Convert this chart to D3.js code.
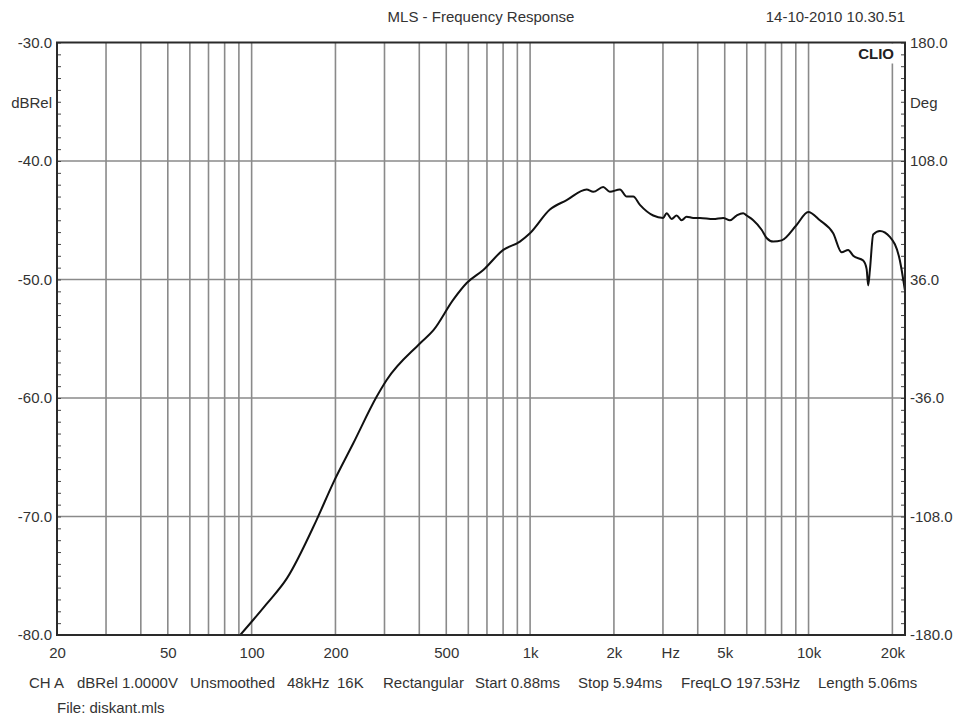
<!DOCTYPE html>
<html>
<head>
<meta charset="utf-8">
<script src="https://cdn.jsdelivr.net/npm/d3@7"></script>
<style>
  body { margin: 0; background: #fff; }
  text { font-family: 'Liberation Sans', Arial, sans-serif; fill: #333; }
</style>
</head>
<body>
<svg id="chart"></svg>
<script>
// data
var freqHz = [91, 113, 134, 171, 196, 232, 281, 305, 402, 449, 530,
              592, 679, 801, 919, 999, 1178, 1353, 1596, 1686, 1830,
              1934, 2102, 2222, 2346, 2480, 2768, 3006, 3092, 3223, 3359,
              3502, 3648, 3853, 4072, 4546, 4938, 5220, 5516, 5826, 5991,
              6329, 6782, 7069, 7466, 8004, 9058, 9971, 10984, 12260, 13144,
              13878, 14466, 15712, 16160, 16376, 16608, 17070, 18038, 19590, 21280,
              22180];
var levelDb = [-80, -77.4, -75.2, -70.3, -67.2, -63.8, -59.9, -58.5, -55.4, -54.3, -51.7,
               -50.3, -49.2, -47.5, -46.8, -46.1, -44.1, -43.3, -42.4, -42.6, -42.2,
               -42.6, -42.4, -43.0, -43.0, -43.7, -44.6, -44.8, -44.4, -44.9, -44.6,
               -45.0, -44.7, -44.8, -44.8, -44.9, -44.8, -45.0, -44.6, -44.4, -44.6,
               -45.0, -45.8, -46.5, -46.8, -46.7, -45.4, -44.3, -45.0, -46.1, -47.7,
               -47.5, -48.0, -48.4, -49.1, -50.5, -49.2, -46.2, -45.9, -46.4, -48.4,
               -50.9];

var freqTicks = [20, 50, 100, 200, 500, 1000, 2000, 5000, 10000, 20000];
var freqTickLabels = ['20', '50', '100', '200', '500', '1k', '2k', '5k', '10k', '20k'];
var freqGrid = [30, 40, 50, 60, 70, 80, 90, 100, 200, 300, 400, 500, 600, 700, 800, 900,
                1000, 2000, 3000, 4000, 5000, 6000, 7000, 8000, 9000, 10000, 20000];
var dbTicks = [-80, -70, -60, -50, -40, -30];
var degTicks = [-180, -108, -36, 36, 108, 180];

var infoItems = ['CH A', 'dBRel 1.0000V', 'Unsmoothed', '48kHz', '16K', 'Rectangular',
                 'Start 0.88ms', 'Stop 5.94ms', 'FreqLO 197.53Hz', 'Length 5.06ms'];
var infoX = [29, 77, 190, 287, 337, 383, 475, 578, 681, 818];

var W = 957, H = 717;
var pL = 57, pR = 905, pT = 42.5, pB = 635;

var svg = d3.select('#chart').attr('width', W).attr('height', H);

var x = d3.scaleLog().domain([20, 22200]).range([pL, pR]);
var y = d3.scaleLinear().domain([-80, -30]).range([pB, pT]);
var yDeg = d3.scaleLinear().domain([-180, 180]).range([pB, pT]);

var fmt1 = function(d) { return d.toFixed(1); }; // plain hyphen minus like the original

// grid
svg.append('g').selectAll('line')
    .data(freqGrid)
    .enter().append('line')
    .attr('x1', d => x(d)).attr('x2', d => x(d))
    .attr('y1', pT).attr('y2', pB)
    .attr('stroke', '#8a8a8a').attr('stroke-width', 1.6);

svg.append('g').selectAll('line')
    .data(dbTicks.slice(1, -1))
    .enter().append('line')
    .attr('x1', pL).attr('x2', pR)
    .attr('y1', d => y(d)).attr('y2', d => y(d))
    .attr('stroke', '#8a8a8a').attr('stroke-width', 1.6);

// CLIO box hides the grid behind it
svg.append('rect')
    .attr('x', 853).attr('y', pT + 1).attr('width', 44).attr('height', 20)
    .attr('fill', '#fff');
svg.append('text')
    .attr('x', 894).attr('y', 59)
    .attr('text-anchor', 'end')
    .style('font-size', '15px').style('font-weight', 'bold')
    .style('fill', '#222')
    .text('CLIO');

// minor ticks inside the frame
var minorL = d3.axisRight(y).tickValues(d3.range(-80, -29, 1)).tickSize(4).tickFormat('');
svg.append('g').attr('transform', 'translate(' + pL + ',0)').call(minorL)
    .call(g => g.select('.domain').remove())
    .selectAll('line').attr('stroke', '#444');

var minorR = d3.axisLeft(yDeg).tickValues(d3.range(-180, 180.1, 7.2)).tickSize(4).tickFormat('');
svg.append('g').attr('transform', 'translate(' + pR + ',0)').call(minorR)
    .call(g => g.select('.domain').remove())
    .selectAll('line').attr('stroke', '#444');

// curve
svg.append('clipPath').attr('id', 'plot')
    .append('rect').attr('x', pL).attr('y', pT).attr('width', pR - pL).attr('height', pB - pT);

var line = d3.line()
    .x(d => x(d[0]))
    .y(d => y(d[1]))
    .curve(d3.curveMonotoneX);

svg.append('path')
    .datum(freqHz.map((f, i) => [f, levelDb[i]]))
    .attr('clip-path', 'url(#plot)')
    .attr('d', line)
    .attr('fill', 'none')
    .attr('stroke', '#111')
    .attr('stroke-width', 2)
    .attr('stroke-linejoin', 'round');

// frame
svg.append('rect')
    .attr('x', pL).attr('y', pT).attr('width', pR - pL).attr('height', pB - pT)
    .attr('fill', 'none').attr('stroke', '#2a2a2a').attr('stroke-width', 2);

// axis labels
var yAxisL = d3.axisLeft(y).tickValues(dbTicks).tickSize(0).tickPadding(5).tickFormat(fmt1);
svg.append('g').attr('transform', 'translate(' + pL + ',0)').call(yAxisL)
    .call(g => g.select('.domain').remove())
    .selectAll('text').style('font-size', '15px').attr('font-family', null).attr('fill', null);

var yAxisR = d3.axisRight(yDeg).tickValues(degTicks).tickSize(0).tickPadding(5).tickFormat(fmt1);
svg.append('g').attr('transform', 'translate(' + pR + ',0)').call(yAxisR)
    .call(g => g.select('.domain').remove())
    .selectAll('text').style('font-size', '15px').attr('font-family', null).attr('fill', null);

var xAxis = d3.axisBottom(x).tickValues(freqTicks).tickSize(0).tickPadding(12)
    .tickFormat((d, i) => freqTickLabels[i]);
svg.append('g').attr('transform', 'translate(0,' + pB + ')').call(xAxis)
    .call(g => g.select('.domain').remove())
    .selectAll('text').style('font-size', '15px').attr('font-family', null).attr('fill', null);

svg.append('text').attr('x', x(3200)).attr('y', 658).attr('text-anchor', 'middle')
    .style('font-size', '15px').text('Hz');

svg.append('text').attr('x', 52).attr('y', 108).attr('text-anchor', 'end')
    .style('font-size', '15px').text('dBRel');
svg.append('text').attr('x', 910).attr('y', 108)
    .style('font-size', '15px').text('Deg');

// header
svg.append('text').attr('x', 481).attr('y', 22).attr('text-anchor', 'middle')
    .style('font-size', '15px').text('MLS - Frequency Response');
svg.append('text').attr('x', 905).attr('y', 22).attr('text-anchor', 'end')
    .style('font-size', '15px').text('14-10-2010 10.30.51');

// footer
svg.append('g').selectAll('text')
    .data(infoItems)
    .enter().append('text')
    .attr('x', (d, i) => infoX[i]).attr('y', 688)
    .style('font-size', '15px')
    .text(d => d);

svg.append('text').attr('x', 57).attr('y', 713)
    .style('font-size', '15px').text('File: diskant.mls');
</script>
</body>
</html>
